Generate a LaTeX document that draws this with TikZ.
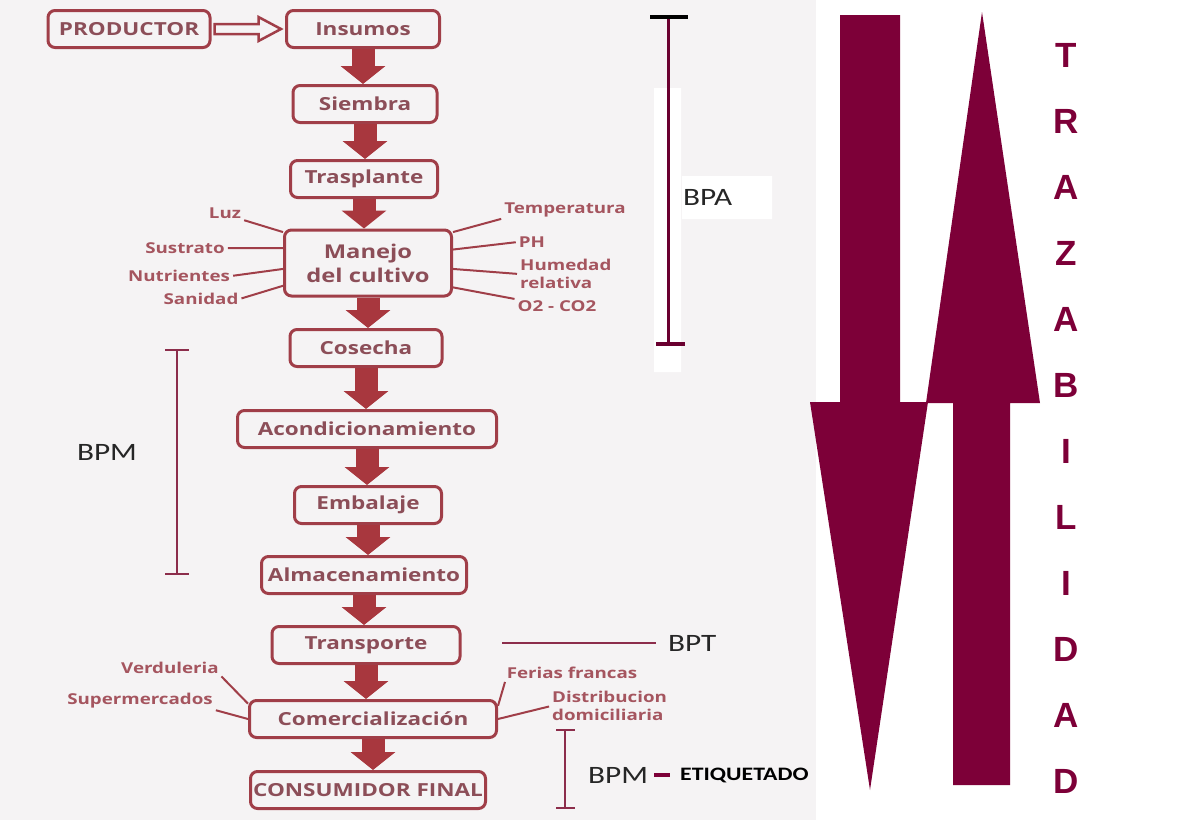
\documentclass[tikz,border=0pt]{standalone}
\usepackage{fontspec}
\newfontfamily\boxfont[FakeStretch=1.25]{Open Sans}
\newfontfamily\labfont[FakeStretch=1.25]{Carlito}
\newfontfamily\trazfont{Liberation Sans}
\usepackage{xcolor}
\definecolor{boxred}{RGB}{160,62,72}
\definecolor{boxtext}{RGB}{140,78,88}
\definecolor{spoketext}{RGB}{165,85,95}
\definecolor{fatred}{RGB}{168,55,62}
\definecolor{trazmaroon}{RGB}{125,0,56}
\definecolor{bggray}{RGB}{245,243,244}
\definecolor{brackred}{RGB}{140,45,75}
\usetikzlibrary{arrows.meta,calc}

\begin{document}
\begin{tikzpicture}[x=1pt,y=-1pt,
	box/.style={draw=boxred,line width=3pt,rounded corners=7pt,text=boxtext,
		font=\boxfont\bfseries\fontsize{18}{22}\selectfont,
		minimum height=37pt,inner sep=2pt},
	spk/.style={text=spoketext,font=\boxfont\bfseries\fontsize{15}{18}\selectfont,
		inner sep=1pt,align=left},
	spoke/.style={draw=boxred,line width=2pt,shorten <=2pt},
	fat/.style={fatred,line width=23pt,-{Triangle[width=44pt,length=18pt]}},
	lab/.style={text=black!85,font=\labfont\fontsize{25}{28}\selectfont,inner sep=0pt},
	brack/.style={brackred,line width=2.5pt},
	traz/.style={text=trazmaroon,font=\trazfont\bfseries\fontsize{35}{37}\selectfont,
		inner sep=0pt}]

	\useasboundingbox (0,0) rectangle (1179,836);
	\fill[bggray] (0,0) rectangle (816,820);
	\fill[white] (654,88) rectangle (681,372) (682,176) rectangle (772,219);

	% cadena de etapas
	\node[box,minimum width=162pt] (prod) at (129,29) {PRODUCTOR};
	\node[box,minimum width=153pt] (ins) at (363,29) {Insumos};
	\node[box,minimum width=144pt] (siem) at (365,104) {Siembra};
	\node[box,minimum width=147pt] (tras) at (364,179) {Trasplante};
	\node[box,minimum width=167pt,minimum height=66pt,align=center,
		font=\boxfont\bfseries\fontsize{19}{24}\selectfont] (manejo) at (368,263)
		{Manejo\\del cultivo};
	\node[box,minimum width=152pt] (cos) at (366,348) {Cosecha};
	\node[box,minimum width=259pt] (acon) at (367,429) {Acondicionamiento};
	\node[box,minimum width=147pt] (emb) at (368,505) {Embalaje};
	\node[box,minimum width=205pt] (alm) at (364,575) {Almacenamiento};
	\node[box,minimum width=188pt] (transp) at (366,645) {Transporte};
	\node[box,minimum width=247pt] (comer) at (373,719) {Comercialización};
	\node[box,minimum width=235pt,inner xsep=0pt] (cons) at (368,790) {CONSUMIDOR FINAL};

	\draw[boxred,line width=2.5pt,fill=bggray] ($(prod.east)+(3,-5)$) -- ++(44,0)
		-- ++(0,-7) -- ($(ins.west)+(-4,0)$) -- ($(prod.east)+(47,12)$)
		-- ++(0,-7) -- ++(-44,0) -- cycle;

	\foreach \a/\b in {ins/siem,siem/tras,tras/manejo,manejo/cos,cos/acon,
		acon/emb,emb/alm,alm/transp,transp/comer,comer/cons}
		\draw[fat] (\a.south) -- (\a.south |- \b.north);

	% factores del manejo
	\node[spk] (luz) at (225,213) {Luz};
	\node[spk] (sust) at (185,248) {Sustrato};
	\node[spk] (nutr) at (179,276) {Nutrientes};
	\node[spk] (sani) at (201,299) {Sanidad};
	\node[spk] (temp) at (565,210) {Temperatura};
	\node[spk] (ph) at (532,242) {PH};
	\node[spk,anchor=west] (hum) at (519,274) {Humedad\\relativa};
	\node[spk] (o2) at (557,306) {O2 - CO2};
	\draw[spoke] (luz.south east) -- (manejo.160);
	\draw[spoke] (sust.east) -- (manejo.170);
	\draw[spoke] (nutr.east) -- (manejo.184);
	\draw[spoke] (sani.east) -- (manejo.195);
	\draw[spoke] (temp.south west) -- (manejo.20);
	\draw[spoke] (ph.west) -- (manejo.9);
	\draw[spoke] (hum.west) -- (manejo.-4);
	\draw[spoke] (o2.north west) -- (manejo.-16);

	% canales de venta
	\node[spk] (verd) at (170,668) {Verduleria};
	\node[spk] (super) at (140,701) {Supermercados};
	\node[spk] (ferias) at (572,673) {Ferias francas};
	\node[spk,anchor=west] (dist) at (551,706) {Distribucion\\domiciliaria};
	\draw[spoke] (verd.south east) -- (comer.173);
	\draw[spoke] (super.south east) -- (comer.west);
	\draw[spoke] (ferias.south west) -- (comer.6);
	\draw[spoke] (dist.west) -- (comer.east);

	% buenas practicas
	\draw[trazmaroon!85!black,line width=3pt] (668,17) -- (668,344);
	\draw[black,line width=4pt] (650,17) -- (688,17);
	\draw[trazmaroon!85!black,line width=3.5pt] (656,344) -- (685,344);
	\node[lab,anchor=west] (bpa) at (683,197) {BPA};

	\draw[brack,line width=2pt] (177,350) -- (177,574) (165,350) -- (189,350)
		(165,574) -- (189,574);
	\node[lab] (bpm) at (107,452) {BPM};

	\coordinate (bptstart) at (502,643);
	\node[lab,anchor=west] (bpt) at (668,643) {BPT};
	\draw[brack,shorten >=12pt] (bptstart) -- (bpt.west);

	\draw[brack] (565,730) -- (565,808) (556,730) -- (575,730)
		(556,808) -- (575,808);
	\node[lab,anchor=west] (bpmb) at (588,775) {BPM};
	\node[lab,anchor=west,text=black,font=\labfont\bfseries\fontsize{19}{22}\selectfont]
		(etiq) at (680,775) {ETIQUETADO};
	\draw[trazmaroon,line width=4pt,shorten <=6pt,shorten >=10pt] (bpmb.east) -- (etiq.west);

	% trazabilidad
	\fill[trazmaroon] (840,15) -- (900,15) -- (900,402) -- (928,402) -- (870,790)
		-- (810,402) -- (840,402) -- cycle;
	\fill[trazmaroon] (982,12) -- (1040,403) -- (1010,403) -- (1010,785)
		-- (953,785) -- (953,403) -- (926,403) -- cycle;
	\foreach \ch [count=\i] in {T,R,A,Z,A,B,I,L,I,D,A,D}
		\node[traz] (t\i) at (1066,{55+66*(\i-1)}) {\ch};

\end{tikzpicture}
\end{document}
